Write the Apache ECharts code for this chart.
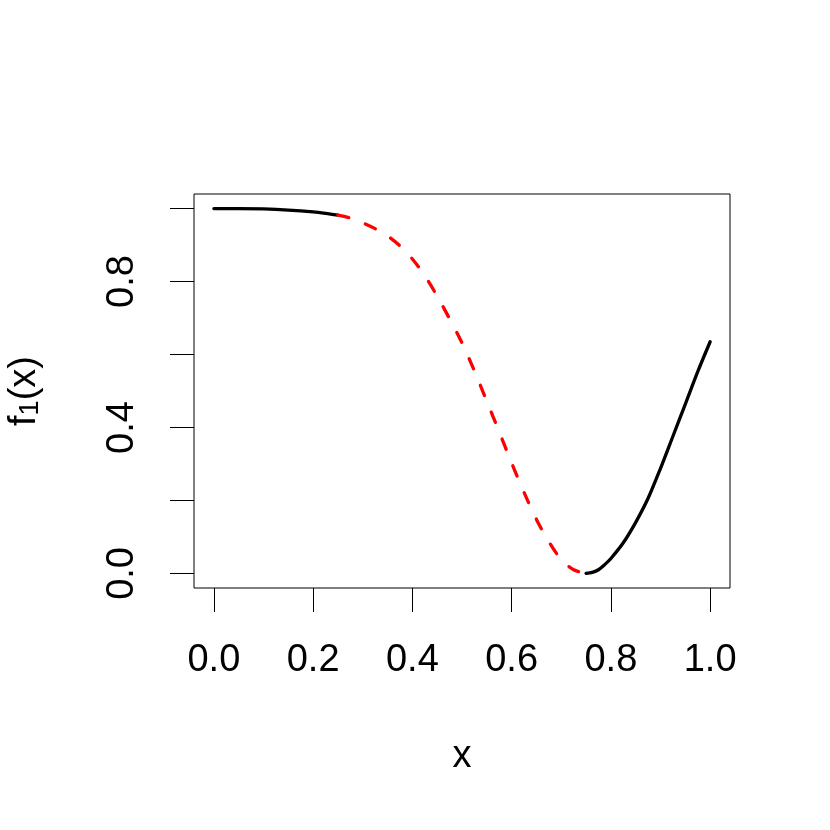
<!DOCTYPE html>
<html>
<head>
<meta charset="utf-8">
<script src="https://cdn.jsdelivr.net/npm/echarts@6/dist/echarts.min.js"></script>
<style>
  html, body { margin: 0; padding: 0; background: #fff; }
  #chart { width: 830px; height: 830px; }
</style>
</head>
<body>
<div id="chart"></div>
<script>
// curve, split where the line style changes
var xFlat = [0, 0.05, 0.10, 0.15, 0.20, 0.225, 0.25];
var yFlat = [1.000, 1.000, 0.999, 0.996, 0.991, 0.987, 0.982];

var xFall = [0.25, 0.275, 0.30, 0.325, 0.35, 0.375, 0.40, 0.425, 0.45, 0.475, 0.50,
             0.525, 0.55, 0.575, 0.60, 0.625, 0.65, 0.675, 0.70, 0.725, 0.75];
var yFall = [0.982, 0.974, 0.961, 0.945, 0.925, 0.898, 0.862, 0.816, 0.760, 0.698, 0.632,
             0.555, 0.472, 0.388, 0.303, 0.222, 0.148, 0.087, 0.038, 0.010, 0.000];

var xRise = [0.75, 0.7625, 0.775, 0.7875, 0.80, 0.825, 0.85, 0.875, 0.90, 0.925, 0.95, 0.975, 1.00];
var yRise = [0.000, 0.003, 0.010, 0.024, 0.041, 0.084, 0.140, 0.206, 0.288, 0.376, 0.464, 0.553, 0.635];

var xTicks = [0, 0.2, 0.4, 0.6, 0.8, 1.0];
var yTicks = [0, 0.2, 0.4, 0.6, 0.8, 1.0];
var yLabels = [0, 0.4, 0.8];

function pairs(xs, ys) {
    return xs.map(function (x, i) { return [x, ys[i]]; });
}

var FONT = 'Liberation Sans';
var chart = echarts.init(document.getElementById('chart'));

var option = {
    animation: false,
    backgroundColor: '#fff',
    grid: {
        left: 194, right: 100, top: 194, bottom: 242,
        outerBoundsMode: 'none',
        containLabel: false,
        show: true,
        borderColor: '#000',
        borderWidth: 1,
        backgroundColor: 'transparent'
    },
    xAxis: {
        type: 'value',
        min: -0.04, max: 1.04,
        name: 'x',
        nameLocation: 'middle',
        nameGap: 150,
        nameTextStyle: { fontFamily: FONT, fontSize: 38, color: '#000' },
        axisLine: { show: false, onZero: false },
        splitLine: { show: false },
        axisTick: {
            show: true, inside: false, length: 24,
            customValues: xTicks,
            lineStyle: { color: '#000', width: 1 }
        },
        axisLabel: {
            customValues: xTicks,
            margin: 54,
            fontFamily: FONT, fontSize: 38, color: '#000',
            formatter: function (v) { return v.toFixed(1); }
        }
    },
    yAxis: {
        type: 'value',
        min: -0.04, max: 1.04,
        name: '{a|f}{s|1}{a|(x)}',
        nameLocation: 'middle',
        nameRotate: 90,
        nameGap: 150,
        nameTextStyle: {
            fontFamily: FONT, color: '#000',
            rich: {
                a: { fontFamily: FONT, fontSize: 38, color: '#000', verticalAlign: 'top', lineHeight: 38 },
                s: { fontFamily: FONT, fontSize: 27, color: '#000', verticalAlign: 'bottom', lineHeight: 27, padding: [20, 0, 0, 0] }
            }
        },
        axisLine: { show: false, onZero: false },
        splitLine: { show: false },
        axisTick: {
            show: true, inside: false, length: 24,
            customValues: yTicks,
            lineStyle: { color: '#000', width: 1 }
        },
        axisLabel: {
            customValues: yLabels,
            rotate: 90,
            margin: 52,
            fontFamily: FONT, fontSize: 38, color: '#000',
            formatter: function (v) { return v.toFixed(1); }
        }
    },
    series: [
        {
            type: 'line',
            data: pairs(xFlat, yFlat),
            smooth: 0.3,
            showSymbol: false,
            lineStyle: { color: '#000', width: 3.3, cap: 'round' }
        },
        {
            type: 'line',
            data: pairs(xFall, yFall),
            smooth: 0.3,
            showSymbol: false,
            lineStyle: { color: '#ff0000', width: 3.3, type: [11, 18], cap: 'round' }
        },
        {
            type: 'line',
            data: pairs(xRise, yRise),
            smooth: 0.3,
            showSymbol: false,
            lineStyle: { color: '#000', width: 3.3, cap: 'round' }
        }
    ]
};

chart.setOption(option);
</script>
</body>
</html>
